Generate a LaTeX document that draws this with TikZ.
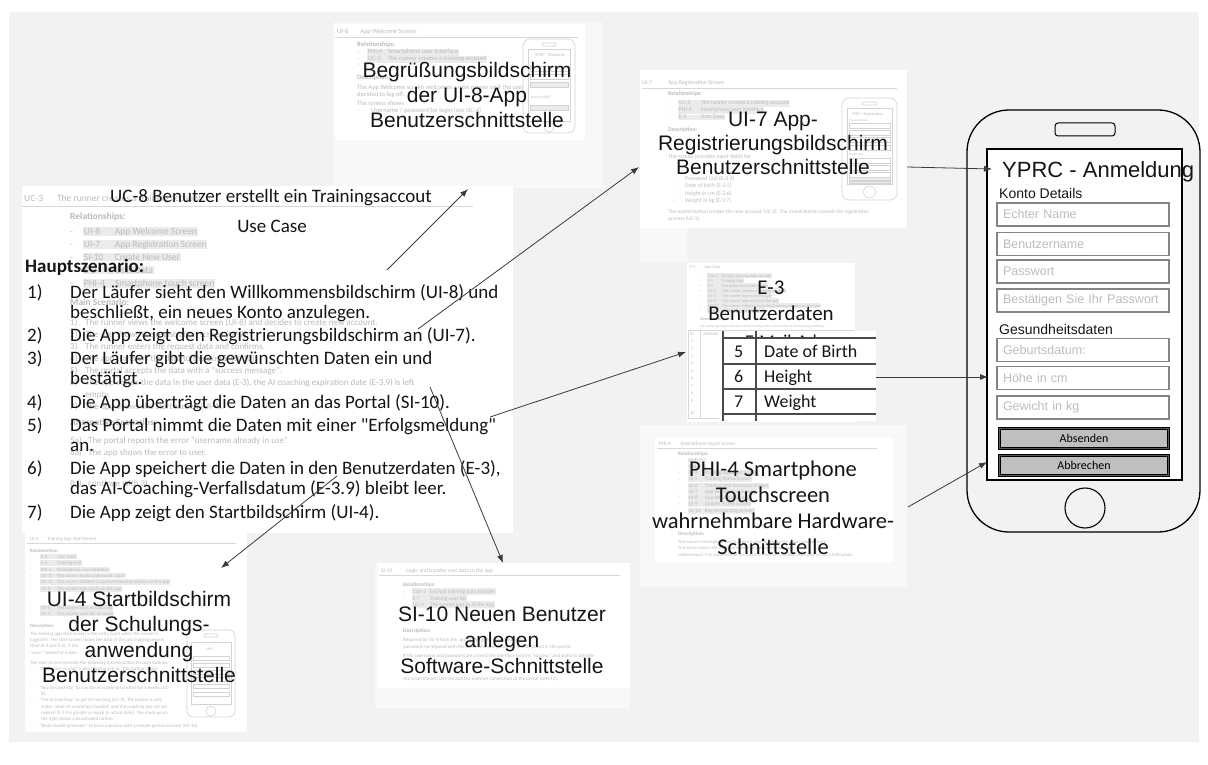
\documentclass[tikz,border=0pt]{standalone}
\usepackage{fontspec}
\usetikzlibrary{arrows.meta}
\setmainfont{Liberation Sans}
\newfontfamily\calibri{Carlito}
\newfontfamily\arial{Liberation Sans}

\definecolor{panel}{HTML}{F2F2F2}
\definecolor{haze}{HTML}{F8F8F8}
\definecolor{ghost}{HTML}{BBBBBB}
\definecolor{ghostgrid}{HTML}{D8D8D8}
\definecolor{ghostmark}{HTML}{EBEBEB}
\definecolor{ghostphone}{HTML}{D3D3D3}
\definecolor{ink}{HTML}{151515}
\definecolor{wire}{HTML}{3A3A3A}
\definecolor{fieldline}{HTML}{858585}
\definecolor{hint}{HTML}{BDBDBD}
\definecolor{buttonfill}{HTML}{BFBFBF}
\definecolor{buttonrim}{HTML}{5A5A5A}
\definecolor{tableline}{HTML}{4A4A4A}

\newcommand{\fsz}[2]{\fontsize{#1}{#2}\selectfont}

\tikzset{
  ghostblock/.style={text=ghost, anchor=north west, inner sep=0pt, align=left},
  ghostbar/.style={text=ghost, anchor=base west, fill=ghostmark, inner sep=0.7pt},
  ghosthead/.style={text=ghost, anchor=base west, inner sep=0pt},
  ghostrule/.style={draw=ghostgrid, line width=0.6pt},
  ghostframe/.style={draw=ghostphone, line width=0.6pt},
  arialtitle/.style={text=ink, align=center, inner sep=0pt, font=\arial\fsz{21}{25}},
  calibrititle/.style={text=ink, align=center, inner sep=0pt, font=\calibri\fsz{22}{26}},
  listline/.style={text=ink, anchor=base west, inner sep=0pt, font=\calibri\fsz{19}{21}},
  arrowlink/.style={draw=wire, line width=0.8pt, -{Latex[length=8pt,width=6pt]}},
  fieldbox/.style={draw=fieldline, line width=1.2pt, fill=white, minimum width=172pt,
     minimum height=23pt, text width=160pt, inner xsep=6pt, inner ysep=0pt, align=left,
     text=hint, font=\arial\fsz{12.5}{14}},
  formlabel/.style={text=ink, anchor=base west, inner sep=0pt, font=\arial\fsz{14}{16}},
  formbutton/.style={draw=black, line width=1pt, double=buttonrim, double distance=1.4pt,
     fill=buttonfill, minimum width=169pt, minimum height=20pt, inner sep=0pt,
     font=\calibri\fsz{12}{14}, text=black},
  cellline/.style={draw=tableline, line width=1.3pt},
  celltext/.style={text=ink, anchor=base west, inner sep=0pt, font=\calibri\fsz{18}{20}},
}

\begin{document}
\begin{tikzpicture}[x=1pt,y=-1pt]
\useasboundingbox (0,0) rectangle (1208,765);
\fill[white] (0,0) rectangle (1208,765);
\fill[panel] (9,12) rectangle (1199,742);

% ---------- document sheets ----------
\fill[haze] (333,22) rectangle (603,188);
\fill[white] (335,24) rectangle (585,140);
\fill[haze] (640,228) rectangle (687,262);
\fill[white] (640,70) rectangle (907,228);
\fill[white] (22,186) rectangle (513,533);
\fill[white] (25,533) rectangle (247,732);
\fill[white] (687,263) rectangle (855,422);
\fill[haze] (640,425) rectangle (907,587);
\fill[white] (655,438) rectangle (893,562);
\fill[haze] (375,563) rectangle (630,708);
\fill[white] (378,563) rectangle (630,688);

% ---------- UI-8 sheet content ----------
\begin{scope}[font=\calibri\fsz{6.5}{7}]
\node[ghosthead] (ui8head) at (337,34) {UI-8\hspace{12pt}App Welcome Screen};
\draw[ghostrule] (335,37) -- (578,37);
\node[ghosthead, font=\calibri\bfseries\fsz{6.5}{7}] (ui8rel) at (357,47) {Relationships:};
\node[ghosthead] (ui8d1) at (357,54) {-};
\node[ghosthead] (ui8d2) at (357,61) {-};
\node[ghosthead] (ui8d3) at (357,67) {-};
\node[ghostbar] (ui8i1) at (367,54) {\makebox[20pt][l]{PHI-4}Smartphone user interface};
\node[ghostbar] (ui8i2) at (367,61) {\makebox[20pt][l]{UC-3}The runner creates a training account};
\node[ghosthead, font=\calibri\bfseries\fsz{6.5}{7}] (ui8desc) at (357,80) {Description:};
\node[ghostblock] (ui8text) at (357,84.5) {The App Welcome screen welcomes a new runner or if the user\\decided to log off.};
\node[ghosthead] (ui8shows) at (357,106) {The screen shows};
\node[ghosthead] (ui8login) at (357,113) {-\hspace{12pt}Username / password for login (see UC-4)};
\end{scope}
\draw[ghostframe, rounded corners=7pt, fill=white] (523,39) rectangle (575,133);
\draw[ghostframe, rounded corners=1pt] (542,43) rectangle (556,46);
\draw[ghostframe] (528,49) rectangle (570,121);
\node[ghosthead, font=\calibri\fsz{4.5}{5}] (ui8ph) at (535,57) {YPRC - Welcome};
\draw[ghostframe] (530,66) rectangle (568,71);
\draw[ghostframe] (530,74) rectangle (568,79);
\draw[ghostframe, fill=ghostmark] (530,82) rectangle (568,87);
\node[ghosthead, font=\calibri\fsz{3.5}{4}] (ui8new) at (531,99) {New to YPRC?};
\draw[ghostframe, fill=ghostmark] (530,105) rectangle (568,110);
\draw[ghostframe] (549,127) circle (5);

% ---------- UI-7 sheet content ----------
\begin{scope}[font=\calibri\fsz{5.8}{7}]
\node[ghosthead] (ui7head) at (642,85) {UI-7\hspace{16pt}App Registration Screen};
\draw[ghostrule] (642,88) -- (897,88);
\node[ghosthead, font=\calibri\bfseries\fsz{5.8}{7}] (ui7rel) at (668,96) {Relationships:};
\foreach \yy/\code/\what [count=\k] in {105/UC-3/The runner creates a training account, 112/PHI-4/Smartphone user interface, 119/E-3/User Data} {
  \node[ghosthead] (ui7d\k) at (668,\yy) {-};
  \node[ghostbar] (ui7i\k) at (678,\yy) {\makebox[22pt][l]{\code}\what};
}
\node[ghosthead, font=\calibri\bfseries\fsz{5.8}{7}] (ui7desc) at (668,132) {Description:};
\node[ghosthead] (ui7fields) at (668,159) {The screen provides input fields for};
\foreach \yy/\what [count=\k] in {180/Password (2x) (E-3.4), 188/Date of birth (E-3.5), 195/Height in cm (E-3.6), 202/Weight in kg (E-3.7)} {
  \node[ghosthead] (ui7fd\k) at (673,\yy) {-};
  \node[ghosthead] (ui7f\k) at (685,\yy) {\what};
}
\node[ghostblock, font=\calibri\fsz{5.3}{7}] (ui7submit) at (668,209) {The submit button creates the new account (UC-3). The cancel button cancels the registration\\process (UC-3).};
\end{scope}
\draw[ghostframe, rounded corners=7pt, fill=white] (842,98) rectangle (897,200);
\draw[ghostframe, rounded corners=1pt] (862,102) rectangle (877,105);
\draw[ghostframe] (847,108) rectangle (892,184);
\node[ghosthead, font=\calibri\fsz{4}{5}] (ui7ph) at (852,116) {YPRC - Registration};
\node[ghosthead, font=\calibri\fsz{3}{4}] (ui7acc) at (849,121.5) {Account Details};
\foreach \yy in {123,130,137,145,158,165,172} {\draw[ghostframe] (849,\yy) rectangle (890,\yy+5);}
\node[ghosthead, font=\calibri\fsz{3}{4}] (ui7health) at (849,156) {Health Data};
\draw[ghostframe, fill=ghostmark] (849,177.5) rectangle (890,180.5);
\draw[ghostframe, fill=ghostmark] (849,181) rectangle (890,183.5);
\draw[ghostframe] (869.5,192) circle (6);

% ---------- UC-3 sheet content ----------
\begin{scope}[font=\calibri\fsz{9.5}{11}]
\node[ghosthead] (uc3head) at (24,201) {UC-3\hspace{14pt}The runner creates a training account};
\draw[ghostrule] (22,206) -- (473,206);
\node[ghosthead, font=\calibri\bfseries\fsz{9.5}{11}] (uc3rel) at (70,219) {Relationships:};
\foreach \yy/\code/\what [count=\k] in {234/UI-8/App Welcome Screen, 247/UI-7/App Registration Screen, 260/SI-10/Create New User, 273/E-3/User Data, 286/PHI-4/Smartphone touch screen} {
  \node[ghosthead] (uc3d\k) at (70,\yy) {-};
  \node[ghostbar] (uc3i\k) at (83,\yy) {\makebox[31pt][l]{\code}\what};
}
\node[ghosthead, font=\calibri\bfseries\fsz{9.5}{11}] (uc3main) at (70,305) {Main Scenario:};
\node[ghostblock, font=\calibri\fsz{9}{12}] (uc3steps) at (70,318.7) {%
\makebox[15pt][l]{1)}The runner views the welcome screen (UI-8) and decides to create new account.\\
\makebox[15pt][l]{2)}The app shows the registration screen (UI-7).\\
\makebox[15pt][l]{3)}The runner enters the request data and confirms.\\
\makebox[15pt][l]{4)}The app transfers the data to the portal (SI-10).\\
\makebox[15pt][l]{5)}The portal accepts the data with a "success message".\\
\makebox[15pt][l]{6)}The app stores the data in the user data (E-3), the AI coaching expiration date (E-3.9) is left\\
\hspace*{15pt}empty.\\
\makebox[15pt][l]{7)}The app shows the start screen (UI-4).};
\node[ghosthead, font=\calibri\bfseries\fsz{9.5}{11}] (uc3alt) at (70,425) {Alternative Scenarios:};
\node[ghostblock, font=\calibri\fsz{9}{12}] (uc3alts) at (70,436.7) {%
\makebox[18pt][l]{5a)}The portal reports the error "username already in use"\\
\makebox[18pt][l]{6a)}The app shows the error to user.};
\node[ghosthead, font=\calibri\fsz{9}{12}] (uc3cont) at (70,486) {\makebox[18pt][l]{8a)}continue with 3)};
\end{scope}

% ---------- UI-4 sheet content ----------
\begin{scope}[font=\calibri\fsz{4.8}{6.3}]
\node[ghosthead] (ui4head) at (30,540) {UI-4\hspace{9pt}Training App Start Screen};
\draw[ghostrule] (27,543) -- (236,543);
\node[ghosthead, font=\calibri\bfseries\fsz{4.8}{6.3}] (ui4rel) at (30,552) {Relationships:};
\foreach \yy/\code/\what [count=\k] in {558/E-3/User Data, 564/E-5/Training Unit, 571/PHI-4/Smartphone user interface, 577/UC-10/The runner books a personal coach, 583/UC-11/The runner initiates a coached training session on the app, 590/UC-5/The runner logs out from the app, 609/UC-8/The runner buys AI Coaching, 615/UC-9/The runner uses the AI coach} {
  \node[ghosthead] (ui4d\k) at (30,\yy) {-};
  \node[ghostbar] (ui4i\k) at (40,\yy) {\makebox[16pt][l]{\code}\what};
}
\node[ghosthead, font=\calibri\bfseries\fsz{4.8}{6.3}] (ui4desc) at (30,627) {Description:};
\node[ghostblock] (ui4text) at (30,631.6) {The training app start screen is the entry point when the runner is\\
logged in. The start screen shows the data of the last training session\\
(from E-3 and E-5). If the\\
"soon" instead of a date.};
\node[ghosthead] (ui4func) at (30,664) {The start screen provides the following functionalities through buttons:};
\node[ghosthead] (ui4b1) at (30,670) {-\hspace{8pt}"Start now" to start a solo training (UC-6). This button is only};
\node[ghostblock] (ui4b2) at (30,685.6) {-\hspace{8pt}"Buy AI Coaching" to buy the AI coaching function for 4 weeks (UC-\\
\hspace*{11pt}8).\\
-\hspace{8pt}"Get AI Coaching" to get AI Coaching (UC-9). The button is only\\
\hspace*{11pt}active, when AI coaching is booked, and the coaching has not yet\\
\hspace*{11pt}expired (E-3.9 is greater or equal to actual date). The mock-up on\\
\hspace*{11pt}the right shows a deactivated button.\\
-\hspace{8pt}"Book Coaching Session" to book a session with a remote personal coach (UC-10).};
\end{scope}
\draw[ghostframe, rounded corners=6pt, fill=white] (187,630) rectangle (235,717);
\draw[ghostframe, rounded corners=1pt] (204,634) rectangle (218,637);
\draw[ghostframe] (191,642) rectangle (231,704);
\node[ghosthead, font=\calibri\fsz{3.5}{4}] (ui4ph) at (206,650) {YPRC};
\foreach \yy in {656,663,670,677,684,692} {\draw[ghostframe] (193,\yy) rectangle (229,\yy+4);}
\draw[ghostframe] (211,711) circle (5);

% ---------- PHI-4 sheet content ----------
\begin{scope}[font=\calibri\fsz{5.2}{6.3}]
\node[ghosthead] (phihead) at (659,445) {PHI-4\hspace{10pt}Smartphone touch screen};
\draw[ghostrule] (657,448) -- (877,448);
\node[ghosthead, font=\calibri\bfseries\fsz{5.2}{6.3}] (phirel) at (678,455) {Relationships:};
\foreach \yy/\code/\what [count=\k] in {462/U-1/, 468/Obj/, 474/UI-4/Training App Start Screen, 480/UI-5/Training Status Screen, 487/UI-6/Training Unit Summary Screen, 493/UI-7/App Registration Screen, 499/UI-8/App Welcome Screen, 505/UI-9/Update Profile Screen, 512/UI-10/Buy AI Coaching Screen} {
  \node[ghosthead] (phid\k) at (678,\yy) {-};
  \node[ghostbar] (phii\k) at (688,\yy) {\makebox[16pt][l]{\code}\what};
}
\node[ghosthead, font=\calibri\bfseries\fsz{5.2}{6.3}] (phidesc) at (678,535) {Description:};
\node[ghostblock, font=\calibri\fsz{4.5}{6.5}] (phitext) at (678,539.8) {The runner's smartphone touch screen is used to display the visual user interface.\\
This touch screen will show the screens of the training app (see\\
relationships). It is assumed that the touch screen has a minimal resolution of 720 x 1280 pixels.};
\end{scope}

% ---------- SI-10 sheet content ----------
\begin{scope}[font=\calibri\fsz{5.5}{6.8}]
\node[ghosthead] (sihead) at (381,572) {SI-11\hspace{14pt}Login and transfer user data to the app};
\draw[ghostrule] (379,575) -- (620,575);
\node[ghosthead, font=\calibri\bfseries\fsz{5.5}{6.8}] (sirel) at (403,586) {Relationships:};
\foreach \yy/\code/\what [count=\k] in {593/Con-2/Encrypt training data transfer, 600/E-7/Training user list, 606/UC-4/The runner logs in at the app} {
  \node[ghosthead] (sid\k) at (403,\yy) {-};
  \node[ghostbar] (sii\k) at (412,\yy) {\makebox[17pt][l]{\code}\what};
}
\node[ghosthead, font=\calibri\bfseries\fsz{5.5}{6.8}] (sidesc) at (403,632) {Description:};
\node[ghostblock, font=\calibri\fsz{5}{7.5}] (sitext) at (403,637.5) {Required by UC-4 from the app. If the given username and\\
password correspond with the username and password (E-7.2) stored in the portal.};
\node[ghosthead, font=\calibri\fsz{5}{7.5}] (siok) at (403,657) {If the username and password are correct the interface returns "success" and starts to transfer};
\node[ghosthead, font=\calibri\fsz{5}{7.5}] (silink) at (403,680) {the smartphone (UIH-10) and the internet connection of the portal (UIH-11).};
\end{scope}

% ---------- E-3 sheet content ----------
\begin{scope}[font=\calibri\fsz{4.2}{5}]
\node[ghosthead] (e3head) at (690,268) {E-3\hspace{8pt}User Data};
\foreach \yy/\code/\what [count=\k] in {277/Con-3/Encrypt training data storage, 282/E-5/Training Unit, 287/F-5/Calculate Heart Rate Zones, 292/UC-3/The runner creates a training account, 297/UC-4/The runner logs in at the app, 302/UC-5/The runner logs out from the app, 307/UC-11/The runner initiates a coached training session on the app, 312/UI-4/Training App Start Screen} {
  \node[ghosthead] (e3d\k) at (700,\yy) {-};
  \node[ghostbar] (e3i\k) at (707,\yy) {\makebox[14pt][l]{\code}\what};
}
\node[ghosthead, font=\calibri\bfseries\fsz{4.2}{5}] (e3desc) at (700,320) {Description:};
\node[ghosthead, font=\calibri\fsz{3.3}{4}] (e3text) at (700,327) {This entity represents the status of the training status and consists of the following attributes:};
\draw[ghostrule] (688,330) rectangle (853,418);
\draw[ghostrule] (700,330) -- (700,418);
\node[ghosthead] (e3id) at (690,335) {ID};
\node[ghosthead] (e3attr) at (703,335) {Attribute};
\foreach \n in {1,...,9} {\node[ghosthead] (e3n\n) at (691,334.5+7.5*\n) {\n};}
\node[ghosthead] (e3n10) at (690,414) {10};
\end{scope}

% ---------- overlay: attribute table ----------
\fill[white] (719,331) rectangle (876,421);
\begin{scope}
\clip (723,331) rectangle (876,338);
\node[celltext] (cutrow) at (745,347) {E-Mail-Adresse};
\end{scope}
\draw[cellline] (723,331) -- (723,421);
\draw[cellline] (756,331) -- (756,421);
\foreach \yy in {338,364,389,414} {\draw[cellline] (723,\yy) -- (876,\yy);}
\node[celltext] (row5n) at (734,357.5) {5};
\node[celltext] (row5t) at (764,357.5) {Date of Birth};
\node[celltext] (row6n) at (734,382.5) {6};
\node[celltext] (row6t) at (764,382.5) {Height};
\node[celltext] (row7n) at (734,407.5) {7};
\node[celltext] (row7t) at (764,407.5) {Weight};

% ---------- overlay titles ----------
\node[arialtitle, font=\arial\fsz{21}{25}] (ui8title) at (467,95) {Begrüßungsbildschirm\\der UI-8-App\\Benutzerschnittstelle};
\node[arialtitle, font=\arial\fsz{21}{24}] (ui7title) at (773,143) {UI-7 App-\\Registrierungsbildschirm\\Benutzerschnittstelle};
\node[calibrititle, font=\calibri\fsz{21}{26}] (e3title) at (771,301) {E-3\\Benutzerdaten};
\node[calibrititle, font=\calibri\fsz{22.5}{26}] (phititle) at (773,507.5) {PHI-4 Smartphone\\Touchscreen\\wahrnehmbare Hardware-\\Schnittstelle};
\node[arialtitle, font=\arial\fsz{21}{26}] (sititle) at (502,640) {SI-10 Neuen Benutzer\\anlegen\\Software-Schnittstelle};
\node[arialtitle, font=\arial\fsz{21}{25.5}] (ui4title) at (139,637) {UI-4 Startbildschirm\\der Schulungs-\\anwendung\\Benutzerschnittstelle};

% ---------- use case text ----------
\node[text=ink, anchor=base, inner sep=0pt, font=\calibri\fsz{19}{21}] (ucname) at (271,203) {UC-8 Benutzer erstellt ein Trainingsaccout};
\node[text=ink, anchor=base, inner sep=0pt, font=\calibri\fsz{19}{21}] (uckind) at (272,232) {Use Case};
\node[listline, font=\calibri\bfseries\fsz{19}{21}] (main) at (25,272) {Hauptszenario:};
\foreach \yy/\num in {298/1), 341/2), 364.5/3), 408/4), 431/5), 474.5/6), 518/7)} {
  \node[listline] (num\yy) at (27,\yy) {\num};
}
\foreach \yy/\txt [count=\k] in {
  298/{Der Läufer sieht den Willkommensbildschirm (UI-8) und},
  318/{beschließt, ein neues Konto anzulegen.},
  341/{Die App zeigt den Registrierungsbildschirm an (UI-7).},
  364.5/{Der Läufer gibt die gewünschten Daten ein und},
  384.5/{bestätigt.},
  408/{Die App überträgt die Daten an das Portal (SI-10).},
  431/{Das Portal nimmt die Daten mit einer "Erfolgsmeldung"},
  451/{an.},
  474.5/{Die App speichert die Daten in den Benutzerdaten (E-3),},
  494.5/{das AI-Coaching-Verfallsdatum (E-3.9) bleibt leer.},
  518/{Die App zeigt den Startbildschirm (UI-4).}} {
  \node[listline] (step\k) at (70,\yy) {\txt};
}

% ---------- smartphone form ----------
\draw[line width=1.3pt, rounded corners=42pt] (967,110) rectangle (1200,532);
\draw[line width=1pt, rounded corners=3pt] (1055,123) rectangle (1115,136);
\draw[line width=1.1pt, fill=white] (987,149) rectangle (1182,480);
\draw[line width=1.1pt] (1085,508) circle (20);
\node[text=ink, anchor=base west, inner sep=0pt, font=\arial\fsz{22}{26}] (formtitle) at (1002,178) {YPRC - Anmeldung};
\node[formlabel] (account) at (999,199) {Konto Details};
\node[fieldbox] (realname) at (1083,214.5) {Echter Name};
\node[fieldbox] (username) at (1083,244) {Benutzername};
\node[fieldbox] (password) at (1083,271.5) {Passwort};
\node[fieldbox] (confirm) at (1083,300.5) {Bestätigen Sie Ihr Passwort};
\node[formlabel] (health) at (999,334) {Gesundheitsdaten};
\node[fieldbox] (birth) at (1083,350) {Geburtsdatum:};
\node[fieldbox] (height) at (1083,378) {Höhe in cm};
\node[fieldbox] (weight) at (1083,407.5) {Gewicht in kg};
\node[formbutton] (submit) at (1084,438.5) {Absenden};
\node[formbutton] (cancel) at (1084,465.5) {Abbrechen};

% ---------- connectors ----------
\coordinate (fromUIeight) at (387,270);
\coordinate (toUIeight) at (468,189);
\coordinate (fromUIseven) at (418,329);
\coordinate (toUIseven) at (639,167);
\coordinate (fromEthree) at (490,417);
\coordinate (toEthree) at (686,352);
\coordinate (fromSIten) at (430,387);
\coordinate (toSIten) at (503,563);
\coordinate (fromUIfour) at (337,476);
\coordinate (toUIfour) at (221,568);
\coordinate (fromScreen) at (907,167);
\coordinate (toTitle) at (992,169);
\coordinate (fromRow) at (876,377);
\coordinate (toHeight) at (988,377);
\coordinate (fromTouch) at (908,507);
\coordinate (toCancel) at (987,462);
\draw[arrowlink] (fromUIeight) -- (toUIeight);
\draw[arrowlink] (fromUIseven) -- (toUIseven);
\draw[arrowlink] (fromEthree) -- (toEthree);
\draw[arrowlink] (fromSIten) -- (toSIten);
\draw[arrowlink] (fromUIfour) -- (toUIfour);
\draw[arrowlink] (fromScreen) -- (toTitle);
\draw[arrowlink] (fromRow) -- (toHeight);
\draw[arrowlink] (fromTouch) -- (toCancel);
\end{tikzpicture}
\end{document}
